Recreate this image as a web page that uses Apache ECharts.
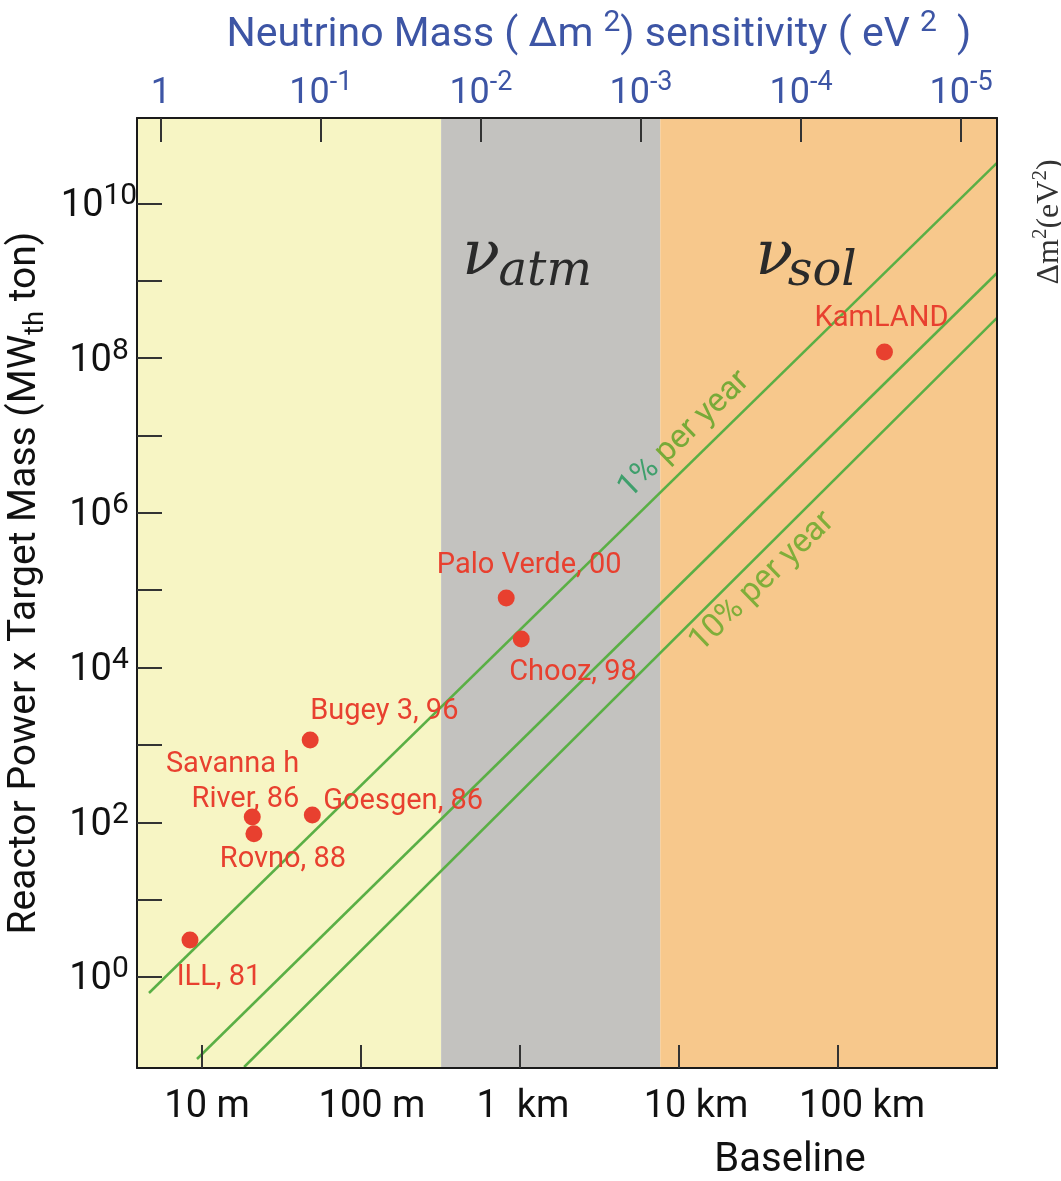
<!DOCTYPE html>
<html>
<head>
<meta charset="utf-8">
<script src="https://cdn.jsdelivr.net/npm/echarts@6/dist/echarts.min.js"></script>
<style>
  html, body { margin: 0; padding: 0; background: #ffffff; }
  #chart { width: 1061px; height: 1181px; }
</style>
</head>
<body>
<div id="chart"></div>
<script>
// ---------------- data ----------------
const experiments = ['ILL, 81', 'Savanna h\nRiver, 86', 'Rovno, 88', 'Bugey 3, 96', 'Goesgen, 86', 'Palo Verde, 00', 'Chooz, 98', 'KamLAND'];
const baselineM   = [8.4, 20.7, 21.2, 47.9, 49.4, 819, 1018, 196000];
const exposure    = [3.0, 117, 71, 1160, 124, 79000, 23400, 1.2e8];

// sensitivity lines (endpoints: [baseline m, MWth*ton])
const line1pct  = [[4.64, 0.621], [1.0e6, 3.34e10]];
const lineMid   = [[9.30, 0.0871], [1.0e6, 1.26e9]];
const line10pct = [[18.4, 0.0686], [1.0e6, 3.31e8]];

// shaded regions along baseline (m)
const regionEdges  = [3.9, 319, 7620, 1.0e6];
const regionNames  = ['short', 'atm', 'sol'];

// axis ticks
const baselineTicks      = [10, 100, 1000, 10000, 100000];
const baselineTickLabels = ['10 m', '100 m', '1  km', '10 km', '100 km'];
const dm2Ticks           = [1, 0.1, 0.01, 0.001, 0.0001, 0.00001];
const exposureTicks      = [1, 10, 100, 1e3, 1e4, 1e5, 1e6, 1e7, 1e8, 1e9, 1e10];
const exposureLabelTicks = [1, 100, 1e4, 1e6, 1e8, 1e10];

// annotation anchors
const nuLabels     = ['atm', 'sol'];
const nuAnchors    = [[1126, 1.75e9], [65000, 1.75e9]];
const lineLabels   = ['1% per year', '10% per year'];
const lineLabelAt  = [[10800, 1.02e7], [33400, 1.28e5]];

// ---------------- styles ----------------
const FONT = 'Roboto, "Noto Sans", sans-serif';
const SERIF = '"Liberation Serif", "DejaVu Serif", serif';
const NUFONT = '"DejaVu Serif", "Liberation Serif", serif';
const RED = '#e8402f';
const BLUE = '#3d55a5';
const GREEN = '#5aaf45';
const regionColors = ['#f7f5c4', '#c3c2bf', '#f7c88c'];
const labelStyle = [
  { align: 'center', offset: [29, 38] },
  { align: 'right',  offset: [47, -35] },
  { align: 'center', offset: [29, 26] },
  { align: 'left',   offset: [0, -28] },
  { align: 'left',   offset: [11, -13] },
  { align: 'center', offset: [23, -32] },
  { align: 'left',   offset: [-12, 34] },
  { align: 'center', offset: [-3, -33] }
];
const nuGlyphOffset = [[-47, -4], [-34, -4]];
const nuSubOffset   = [[17, 11], [14, 11]];
const baselineLabelShift = [5, 11, 3, 17, 24];

const YMIN = 0.0666, YMAX = 1.27e11;

const chart = echarts.init(document.getElementById('chart'));

const scatterData = baselineM.map((x, i) => ({
  value: [x, exposure[i]],
  name: experiments[i],
  label: {
    show: true,
    position: 'inside',
    formatter: experiments[i],
    align: labelStyle[i].align,
    offset: labelStyle[i].offset,
    verticalAlign: 'middle',
    color: RED,
    fontFamily: FONT,
    fontSize: 29,
    lineHeight: 35
  }
}));

const nuMarks = [];
nuLabels.forEach((n, i) => {
  nuMarks.push({
    coord: nuAnchors[i],
    label: {
      show: true, position: 'inside', formatter: 'ν', offset: nuGlyphOffset[i],
      align: 'center', verticalAlign: 'middle',
      fontFamily: NUFONT, fontStyle: 'italic', fontSize: 62, color: '#2a2a2a'
    }
  });
  nuMarks.push({
    coord: nuAnchors[i],
    label: {
      show: true, position: 'inside', formatter: n, offset: nuSubOffset[i],
      align: 'center', verticalAlign: 'middle',
      fontFamily: NUFONT, fontStyle: 'italic', fontSize: 48, color: '#2a2a2a'
    }
  });
});

const bottomRich = {};
baselineLabelShift.forEach((s, i) => {
  bottomRich['l' + i] = { fontFamily: FONT, fontSize: 38, color: '#111', padding: [0, 0, 0, 2 * s] };
});

const option = {
  animation: false,
  backgroundColor: '#ffffff',
  grid: { left: 137, right: 64, top: 118, bottom: 113, containLabel: false, outerBoundsMode: 'none' },
  xAxis: [
    {
      type: 'log', logBase: 10, min: 3.9, max: 1.0e6, position: 'bottom', z: 10,
      axisLine: { show: true, lineStyle: { color: '#1a1a1a', width: 2 } },
      axisTick: { show: true, inside: true, length: 23, customValues: baselineTicks, lineStyle: { color: '#333', width: 2 } },
      minorTick: { show: false },
      splitLine: { show: false },
      axisLabel: {
        customValues: baselineTicks,
        margin: 20,
        formatter: function (v) {
          const i = Math.round(Math.log10(v)) - 1;
          return '{l' + i + '|' + baselineTickLabels[i] + '}';
        },
        rich: bottomRich
      }
    },
    {
      type: 'log', logBase: 10, min: 5.96e-6, max: 1.41, inverse: true, position: 'top', z: 10,
      axisLine: { show: true, lineStyle: { color: '#1a1a1a', width: 2 } },
      axisTick: { show: true, inside: true, length: 24, customValues: dm2Ticks, lineStyle: { color: '#333', width: 2 } },
      minorTick: { show: false },
      splitLine: { show: false },
      axisLabel: {
        customValues: dm2Ticks,
        margin: 6,
        formatter: function (v) {
          const e = Math.round(Math.log10(v));
          if (e === 0) return '{m|1}';
          return '{m|10}{s|' + e + '}';
        },
        rich: {
          m: { fontFamily: FONT, fontSize: 36, color: BLUE, lineHeight: 42, verticalAlign: 'bottom' },
          s: { fontFamily: FONT, fontSize: 27, color: BLUE, lineHeight: 26, verticalAlign: 'top' }
        }
      }
    }
  ],
  yAxis: [
    {
      type: 'log', logBase: 10, min: YMIN, max: YMAX, position: 'left', z: 10,
      axisLine: { show: true, lineStyle: { color: '#1a1a1a', width: 2 } },
      axisTick: { show: true, inside: true, length: 25, customValues: exposureTicks, lineStyle: { color: '#333', width: 2 } },
      minorTick: { show: false },
      splitLine: { show: false },
      axisLabel: {
        customValues: exposureLabelTicks,
        margin: 38,
        align: 'center',
        formatter: function (v) {
          const e = Math.round(Math.log10(v));
          return '{m|10}{s|' + e + '}';
        },
        rich: {
          m: { fontFamily: FONT, fontSize: 38, color: '#111', lineHeight: 44, verticalAlign: 'bottom' },
          s: { fontFamily: FONT, fontSize: 30, color: '#111', lineHeight: 28, verticalAlign: 'top' }
        }
      },
      name: '{t|Reactor Power x Target Mass (MW}{b|th}{t| ton)}',
      nameLocation: 'middle',
      nameGap: 86,
      nameRotate: 90,
      nameTextStyle: {
        padding: [0, 0, 0, 20],
        rich: {
          t: { fontFamily: FONT, fontSize: 39, color: '#111', lineHeight: 44, verticalAlign: 'top' },
          b: { fontFamily: FONT, fontSize: 27, color: '#111', lineHeight: 44, verticalAlign: 'bottom' }
        }
      }
    },
    {
      type: 'log', logBase: 10, min: YMIN, max: YMAX, position: 'right', z: 10,
      axisLine: { show: true, lineStyle: { color: '#1a1a1a', width: 2 } },
      axisTick: { show: false }, axisLabel: { show: false }, splitLine: { show: false }, minorTick: { show: false }
    }
  ],
  series: [
    {
      type: 'line', name: 'regions', xAxisIndex: 0, yAxisIndex: 0, data: [], silent: true,
      markArea: {
        silent: true,
        data: regionNames.map((n, i) => [
          { name: '', xAxis: regionEdges[i], yAxis: YMIN, itemStyle: { color: regionColors[i], opacity: 1 } },
          { xAxis: regionEdges[i + 1], yAxis: YMAX }
        ])
      },
      markPoint: {
        silent: true,
        symbol: 'circle', symbolSize: 1,
        itemStyle: { color: 'rgba(0,0,0,0)' },
        data: nuMarks
      }
    },
    {
      type: 'line', name: '1% per year', data: line1pct, showSymbol: false, symbol: 'none', clip: true,
      lineStyle: { color: GREEN, width: 2.5 }, z: 3,
      markPoint: {
        silent: true, symbol: 'circle', symbolSize: 1, itemStyle: { color: 'rgba(0,0,0,0)' },
        data: [{
          coord: lineLabelAt[0],
          label: {
            show: true, position: 'inside', rotate: 44,
            formatter: '{a|1%}{b| per year}',
            rich: {
              a: { fontFamily: FONT, fontSize: 33, color: '#3f9f6c' },
              b: { fontFamily: FONT, fontSize: 33, color: '#78aa38' }
            }
          }
        }]
      }
    },
    {
      type: 'line', name: 'mid', data: lineMid, showSymbol: false, symbol: 'none', clip: true,
      lineStyle: { color: GREEN, width: 2.5 }, z: 3
    },
    {
      type: 'line', name: '10% per year', data: line10pct, showSymbol: false, symbol: 'none', clip: true,
      lineStyle: { color: GREEN, width: 2.5 }, z: 3,
      markPoint: {
        silent: true, symbol: 'circle', symbolSize: 1, itemStyle: { color: 'rgba(0,0,0,0)' },
        data: [{
          coord: lineLabelAt[1],
          label: {
            show: true, position: 'inside', rotate: 44,
            formatter: lineLabels[1],
            fontFamily: FONT, fontSize: 33, color: '#80ae3a'
          }
        }]
      }
    },
    {
      type: 'scatter', name: 'experiments', data: scatterData, symbol: 'circle', symbolSize: 17,
      itemStyle: { color: RED, opacity: 1 }, z: 5
    }
  ],
  graphic: [
    {
      type: 'text', x: 599, y: 32,
      style: {
        text: '{t|Neutrino Mass ( Δm }{s|2}{t|) sensitivity ( eV }{s|2}{t|  )}',
        align: 'center', verticalAlign: 'middle',
        rich: {
          t: { fontFamily: FONT, fontSize: 41, fill: BLUE, lineHeight: 48, verticalAlign: 'bottom' },
          s: { fontFamily: FONT, fontSize: 30, fill: BLUE, lineHeight: 30, verticalAlign: 'top' }
        }
      }
    },
    {
      type: 'text', x: 790, y: 1161,
      style: { text: 'Baseline', fontFamily: FONT, fontSize: 40, fill: '#111', align: 'center', verticalAlign: 'middle' }
    },
    {
      type: 'text', x: 1048, y: 222, rotation: Math.PI / 2,
      style: {
        text: '{a|Δm}{s|2}{a|(eV}{s|2}{a|)}',
        align: 'center', verticalAlign: 'middle',
        rich: {
          a: { fontFamily: SERIF, fontSize: 32, fill: '#333', lineHeight: 36, verticalAlign: 'bottom' },
          s: { fontFamily: SERIF, fontSize: 21, fill: '#333', lineHeight: 20, verticalAlign: 'top' }
        }
      }
    }
  ]
};

chart.setOption(option);
</script>
</body>
</html>
